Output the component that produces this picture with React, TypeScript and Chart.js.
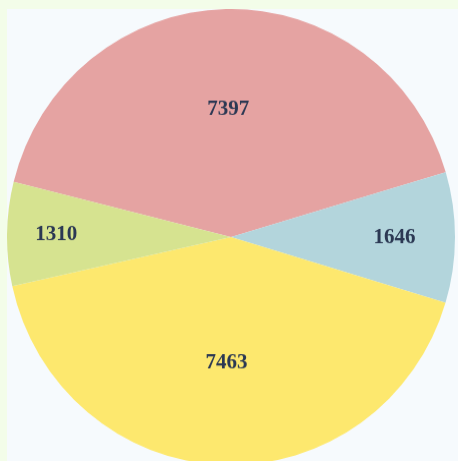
import React, { useEffect, useRef } from "react";
import { Chart, registerables } from "chart.js";

Chart.register(...registerables);

const labels = ["A", "B", "C", "D"];
const values = [7397, 1646, 7463, 1310];
const colors = ["#e5a3a2", "#b3d5dc", "#fde86e", "#d6e390"];
const labelRadius = [0.56, 0.73, 0.55, 0.78];

const labelPlugin = {
  id: "sliceLabels",
  afterDatasetsDraw(chart: any) {
    const ctx = chart.ctx;
    const meta = chart.getDatasetMeta(0);
    ctx.save();
    ctx.font = "bold 21px 'Liberation Serif', serif";
    ctx.fillStyle = "#2b3853";
    ctx.textAlign = "center";
    ctx.textBaseline = "middle";
    meta.data.forEach((arc: any, i: number) => {
      const p = arc.getProps(["x", "y", "startAngle", "endAngle", "outerRadius"], true);
      const mid = (p.startAngle + p.endAngle) / 2;
      const r = p.outerRadius * labelRadius[i];
      ctx.fillText(String(values[i]), p.x + Math.cos(mid) * r, p.y + Math.sin(mid) * r);
    });
    ctx.restore();
  },
};

export default function App() {
  const ref = useRef<HTMLCanvasElement>(null);
  useEffect(() => {
    if (!ref.current) return;
    const chart = new Chart(ref.current, {
      type: "pie",
      data: {
        labels,
        datasets: [
          {
            data: values,
            backgroundColor: colors,
            borderWidth: 0,
          },
        ],
      },
      options: {
        animation: false,
        responsive: false,
        rotation: -76,
        layout: { padding: 0 },
        plugins: {
          legend: { display: false },
          tooltip: { enabled: false },
        },
      },
      plugins: [labelPlugin],
    });
    return () => chart.destroy();
  }, []);
  return (
    <div
      style={{
        position: "fixed",
        left: 0,
        top: 0,
        width: 458,
        height: 461,
        background: "#f3fde9",
        overflow: "hidden",
      }}
    >
      <div
        style={{
          position: "absolute",
          left: 7,
          top: 9,
          width: 451,
          height: 452,
          background: "#f6fafd",
        }}
      />
      <div
        style={{
          position: "absolute",
          left: 7,
          top: 9,
          width: 448,
          height: 448,
          transform: "scaleY(1.018)",
          transformOrigin: "top left",
        }}
      >
        <canvas ref={ref} width={448} height={448} style={{ width: 448, height: 448 }} />
      </div>
    </div>
  );
}
